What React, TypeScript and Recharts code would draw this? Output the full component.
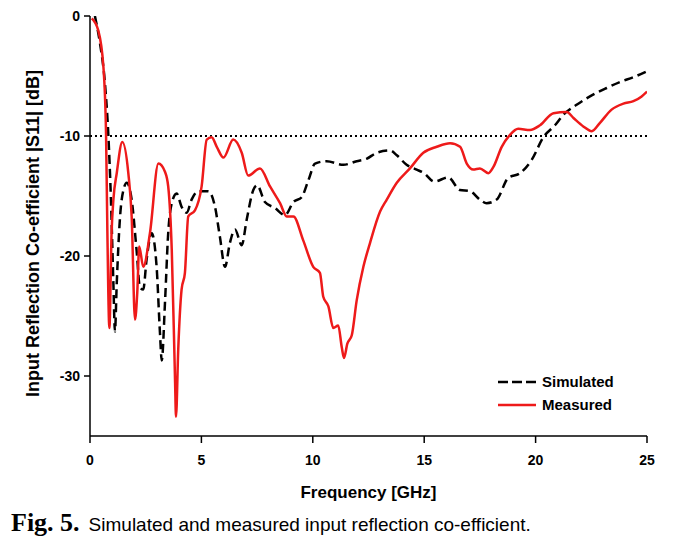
import { LineChart, Line, XAxis, YAxis, ReferenceLine } from 'recharts'

// Simulated |S11| (dashed black)
const SIM_FREQ = [
  0.22, 0.45, 0.67, 0.82, 0.94, 1.05, 1.12, 1.2, 1.35, 1.5, 1.65, 1.87, 2.09, 2.24, 2.39, 2.54,
  2.77, 2.99, 3.14, 3.22, 3.37, 3.51, 3.67, 3.89, 4.11, 4.34, 4.56, 4.86, 5.31, 5.61, 5.83, 6.06,
  6.28, 6.51, 6.81, 7.03, 7.33, 7.5, 7.85, 8.3, 8.75, 9.13, 9.5, 9.8, 10.1, 10.62, 11.37, 11.97,
  12.41, 12.87, 13.46, 13.77, 14.21, 14.66, 15.0, 15.45, 16.08, 16.6, 17.06, 17.5, 17.8, 18.25,
  18.77, 19.3, 19.82, 20.35, 20.87, 21.24, 21.84, 22.44, 23.19, 23.79, 24.39, 25,
]
const SIM_S11 = [
  0, -2.3, -5.6, -9.8, -15.3, -22.3, -26.3, -22.3, -16.7, -14.5, -13.9, -15.3, -19.5, -22.6, -22.8, -20.3,
  -18.1, -20.9, -26.4, -28.7, -23.7, -18.1, -15.6, -14.8, -15.9, -16.4, -15.3, -14.6, -14.6, -15.9, -18.4, -20.9,
  -18.9, -17.8, -19.1, -17, -14.5, -14.1, -15.5, -16, -16.6, -15.5, -15.1, -13.7, -12.3, -12.1, -12.4, -12.1,
  -11.9, -11.4, -11.2, -11.6, -12.4, -12.8, -13.1, -13.8, -13.45, -14.5, -14.6, -15.3, -15.6, -15.3,
  -13.5, -13.1, -12, -10.1, -9.1, -8.25, -7.4, -6.7, -6, -5.5, -5.1, -4.6,
]

// Measured |S11| (solid red)
const MEAS_FREQ = [
  0.08, 0.37, 0.6, 0.72, 0.78, 0.87, 0.97, 1.05, 1.2, 1.45, 1.72, 1.87, 2.02, 2.12, 2.21, 2.39,
  2.69, 3.07, 3.37, 3.51, 3.67, 3.82, 3.86, 3.96, 4.11, 4.26, 4.41, 4.71, 5.01, 5.24, 5.46, 5.69,
  5.99, 6.43, 6.81, 7.1, 7.63, 8.08, 8.53, 8.83, 9.13, 9.57, 10.02, 10.32, 10.47, 10.7, 10.92, 11.14,
  11.3, 11.4, 11.55, 11.75, 11.97, 12.27, 12.57, 13.02, 13.32, 13.77, 14.36, 14.96, 15.56, 16.16,
  16.61, 16.91, 17.2, 17.5, 17.88, 18.1, 18.48, 18.85, 19.22, 19.75, 20.2, 20.8, 21.4, 21.7,
  22.14, 22.52, 22.89, 23.41, 23.94, 24.39, 24.76, 25,
]
const MEAS_S11 = [
  -0.2, -1.2, -4.2, -9.8, -18, -26, -18, -15.3, -13.1, -10.5, -13.1, -16.7, -25.3, -23.1, -19.2, -20.9,
  -18.1, -12.3, -13, -14.2, -19.5, -30.6, -33.4, -27.8, -22.8, -21.4, -16.7, -16.2, -14.2, -10.3, -10.1, -10.9,
  -11.8, -10.3, -11.4, -13.3, -12.7, -14.2, -15.6, -16.7, -16.7, -18.7, -20.9, -21.4, -23.4, -24.2, -26, -25.8,
  -27.6, -28.5, -27.3, -26.6, -23.7, -20.9, -18.9, -16.3, -15.3, -13.9, -12.7, -11.4, -10.9, -10.6,
  -10.9, -12.3, -12.8, -12.7, -13.1, -12.6, -10.9, -9.9, -9.4, -9.5, -9.1, -8.1, -8, -8.5,
  -9.2, -9.6, -8.9, -7.8, -7.3, -7.1, -6.7, -6.3,
]

const X_TICKS = [0, 5, 10, 15, 20, 25]
const Y_TICKS = [-30, -20, -10, 0]

const simData = SIM_FREQ.map((f, i) => ({ f, v: SIM_S11[i] }))
const measData = MEAS_FREQ.map((f, i) => ({ f, v: MEAS_S11[i] }))

const FONT = '"Liberation Sans", Arial, sans-serif'
const tickStyle = { fontFamily: FONT, fontSize: 14, fontWeight: 700, fill: '#000' }

function LegendBox() {
  const items = [
    { name: 'Simulated', color: '#000', dash: '10 4' },
    { name: 'Measured', color: '#ee1a1a', dash: undefined },
  ]
  return (
    <div style={{ position: 'absolute', left: 498, top: 370, fontFamily: FONT, fontSize: 15, fontWeight: 700 }}>
      {items.map((it) => (
        <div key={it.name} style={{ display: 'flex', alignItems: 'center', height: 23 }}>
          <svg width={38} height={6} style={{ marginRight: 6 }}>
            <line x1={0} y1={3} x2={38} y2={3} stroke={it.color} strokeWidth={2.5} strokeDasharray={it.dash} />
          </svg>
          <span>{it.name}</span>
        </div>
      ))}
    </div>
  )
}

export default function App() {
  return (
    <div style={{ position: 'absolute', left: 0, top: 0, width: 675, height: 543, background: '#fff' }}>
      <LineChart width={675} height={543} margin={{ top: 16, right: 28, bottom: 77, left: 0 }}>
        <XAxis
          type="number"
          dataKey="f"
          domain={[0, 25]}
          ticks={X_TICKS}
          allowDataOverflow
          height={30}
          tick={tickStyle}
          tickSize={7}
          tickMargin={12}
          axisLine={{ stroke: '#000', strokeWidth: 1.5 }}
          tickLine={{ stroke: '#000', strokeWidth: 1.5 }}
          label={{ value: 'Frequency [GHz]', position: 'insideBottom', offset: -32, style: { fontFamily: FONT, fontSize: 17, fontWeight: 700, fill: '#000' } }}
        />
        <XAxis xAxisId="top" orientation="top" type="number" domain={[0, 25]} tick={false} tickLine={false} axisLine={{ stroke: '#000', strokeWidth: 1.5 }} height={0} />
        <YAxis
          type="number"
          domain={[-35, 0]}
          ticks={Y_TICKS}
          allowDataOverflow
          width={90}
          tick={tickStyle}
          tickSize={6}
          tickMargin={4}
          axisLine={{ stroke: '#000', strokeWidth: 1.5 }}
          tickLine={{ stroke: '#000', strokeWidth: 1.5 }}
          label={{ value: 'Input Reflection Co-efficient |S11| [dB]', angle: -90, position: 'insideLeft', offset: 33, dy: 171, style: { fontFamily: FONT, fontSize: 18, fontWeight: 700, fill: '#000' } }}
        />
        <YAxis yAxisId="right" orientation="right" domain={[-35, 0]} tick={false} tickLine={false} axisLine={{ stroke: '#000', strokeWidth: 1.5 }} width={0} />
        <ReferenceLine y={-10} stroke="#000" strokeWidth={2} strokeDasharray="2 3" />
        <Line data={simData} dataKey="v" type="monotone" stroke="#000" strokeWidth={2.5} strokeDasharray="9 5" dot={false} isAnimationActive={false} name="Simulated" />
        <Line data={measData} dataKey="v" type="monotone" stroke="#ee1a1a" strokeWidth={2.5} dot={false} isAnimationActive={false} name="Measured" />
      </LineChart>
      <LegendBox />
      <div style={{ position: 'absolute', left: 11, top: 508, display: 'flex', alignItems: 'baseline', whiteSpace: 'nowrap', color: '#000' }}>
        <span style={{ fontFamily: '"Liberation Serif", "Times New Roman", serif', fontWeight: 700, fontSize: 26 }}>Fig. 5.</span>
        <span style={{ fontFamily: FONT, fontSize: 19, marginLeft: 9 }}>Simulated and measured input reflection co-efficient.</span>
      </div>
    </div>
  )
}
